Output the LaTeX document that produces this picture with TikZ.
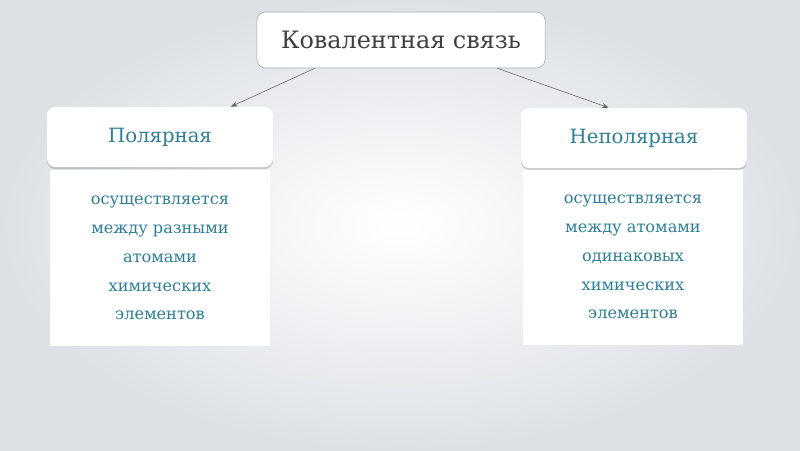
\documentclass[tikz,border=0pt]{standalone}
\usepackage{fontspec}
\setmainfont{DejaVu Serif}
\usetikzlibrary{arrows.meta, positioning, shadows}
\definecolor{tealtext}{HTML}{2E7F96}
\definecolor{bgedge}{HTML}{DDE1E6}

\begin{document}
\begin{tikzpicture}[x=0.025cm,y=-0.025cm,>=Stealth,
    headbox/.style={draw=none, fill=white, rounded corners=6pt,
        drop shadow={shadow xshift=0pt, shadow yshift=-1.5pt, opacity=0.35},
        minimum width=5.65cm, minimum height=1.5cm, text=tealtext, font=\fontsize{14}{16}\selectfont},
    bodybox/.style={fill=white, minimum width=5.5cm, minimum height=4.4cm,
        text=tealtext, align=center, font=\fontsize{11.5}{20.5}\selectfont}]
    \shade[inner color=white, outer color=bgedge] (0,0) rectangle (800,450);
    \useasboundingbox (0,0) rectangle (800,450);
    \node[draw=gray!70, fill=white, rounded corners=6pt, minimum width=7.2cm, minimum height=1.4cm,
        font=\fontsize{17}{20}\selectfont, text=black!75] (title) at (401,40) {Ковалентная связь};
    \node[bodybox] (polbody) at (160,258) {осуществляется\\между разными\\атомами\\химических\\элементов};
    \node[bodybox] (npolbody) at (633,257) {осуществляется\\между атомами\\одинаковых\\химических\\элементов};
    \node[headbox] (pol) at (160,137) {Полярная};
    \node[headbox] (npol) at (634,138) {Неполярная};
    \draw[->, gray!80!black, thin] ([xshift=1.45cm]title.south west) -- ([xshift=4.6cm]pol.north west);
    \draw[->, gray!80!black, thin] ([xshift=-1.2cm]title.south east) -- ([xshift=2.2cm]npol.north west);
\end{tikzpicture}
\end{document}
